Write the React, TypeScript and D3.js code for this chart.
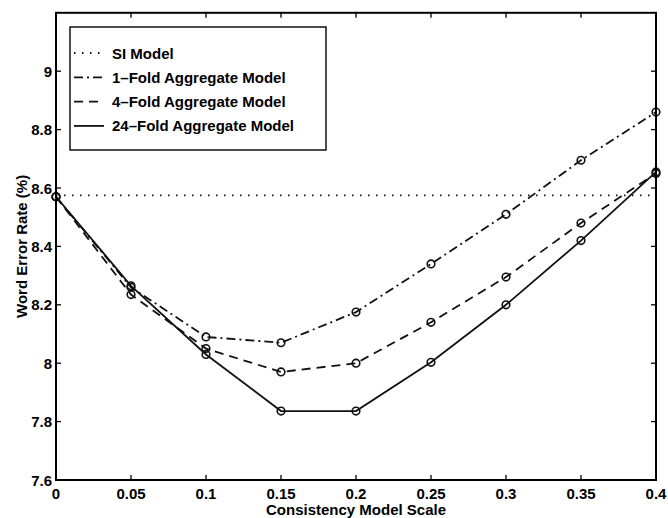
import React from "react";
import * as d3 from "d3";

const xValues = [0, 0.05, 0.1, 0.15, 0.2, 0.25, 0.3, 0.35, 0.4];
const siModel = [8.575, 8.575, 8.575, 8.575, 8.575, 8.575, 8.575, 8.575, 8.575];
const fold1 = [8.57, 8.26, 8.09, 8.07, 8.175, 8.34, 8.51, 8.695, 8.86];
const fold4 = [8.57, 8.235, 8.05, 7.97, 8.0, 8.14, 8.295, 8.48, 8.65];
const fold24 = [8.57, 8.265, 8.03, 7.836, 7.836, 8.003, 8.2, 8.42, 8.655];
const xTicks = [0, 0.05, 0.1, 0.15, 0.2, 0.25, 0.3, 0.35, 0.4];
const yTicks = [7.6, 7.8, 8, 8.2, 8.4, 8.6, 8.8, 9];
const seriesNames = ["SI Model", "1\u2013Fold Aggregate Model", "4\u2013Fold Aggregate Model", "24\u2013Fold Aggregate Model"];

const W = 668, H = 518;
const L = 56, R = 656, T = 12.8, B = 480;
const FONT = "'Liberation Sans', Arial, Helvetica, sans-serif";

export default function App() {
  const x = d3.scaleLinear().domain([0, 0.4]).range([L, R]);
  const y = d3.scaleLinear().domain([7.6, 9.2]).range([B, T]);
  const line = d3.line<[number, number]>().x(d => x(d[0])).y(d => y(d[1]));
  const pts = (vals: number[]) => xValues.map((v, i) => [v, vals[i]] as [number, number]);

  const styles = [
    { data: siModel, dash: "1.5,6.5", markers: false },
    { data: fold1, dash: "9,4,2,4", markers: true },
    { data: fold4, dash: "9,6", markers: true },
    { data: fold24, dash: "none", markers: true },
  ];
  const fmt = (v: number) => String(+v.toFixed(2));

  return (
    <svg width={W} height={H} style={{ position: "absolute", left: 0, top: 0, background: "#fff" }} fontFamily={FONT}>
      <rect x={0} y={0} width={W} height={H} fill="#fff" />
      {styles.map((s, i) => (
        <g key={i}>
          <path d={line(pts(s.data)) || ""} fill="none" stroke="#111" strokeWidth={1.8} strokeDasharray={s.dash} />
          {s.markers && pts(s.data).map((p, j) => (
            <circle key={j} cx={x(p[0])} cy={y(p[1])} r={3.8} fill="none" stroke="#111" strokeWidth={1.6} />
          ))}
        </g>
      ))}
      <rect x={L} y={T} width={R - L} height={B - T} fill="none" stroke="#000" strokeWidth={2} />
      {xTicks.map((t, i) => (
        <g key={"xt" + i}>
          <line x1={x(t)} x2={x(t)} y1={B} y2={B - 5} stroke="#000" strokeWidth={1.3} />
          <line x1={x(t)} x2={x(t)} y1={T} y2={T + 5} stroke="#000" strokeWidth={1.3} />
          <text x={x(t)} y={498.5} textAnchor="middle" fontSize={15} fontWeight="bold">{fmt(t)}</text>
        </g>
      ))}
      {yTicks.map((t, i) => (
        <g key={"yt" + i}>
          <line x1={L} x2={L + 5} y1={y(t)} y2={y(t)} stroke="#000" strokeWidth={1.3} />
          <line x1={R} x2={R - 5} y1={y(t)} y2={y(t)} stroke="#000" strokeWidth={1.3} />
          <text x={52} y={y(t) + 5.5} textAnchor="end" fontSize={15} fontWeight="bold">{fmt(t)}</text>
        </g>
      ))}
      <text x={(L + R) / 2} y={515} textAnchor="middle" fontSize={15} fontWeight="bold">Consistency Model Scale</text>
      <text transform={`translate(27,${(T + B) / 2}) rotate(-90)`} textAnchor="middle" fontSize={15} fontWeight="bold">Word Error Rate (%)</text>
      <rect x={70} y={27} width={256} height={123} fill="#fff" stroke="#000" strokeWidth={1.4} />
      {styles.map((s, i) => {
        const ly = 53 + i * 24.3;
        return (
          <g key={"lg" + i}>
            <line x1={74} x2={104} y1={ly} y2={ly} stroke="#111" strokeWidth={1.8} strokeDasharray={s.dash} />
            <text x={112} y={ly + 5.5} fontSize={15} fontWeight="bold">{seriesNames[i]}</text>
          </g>
        );
      })}
    </svg>
  );
}
